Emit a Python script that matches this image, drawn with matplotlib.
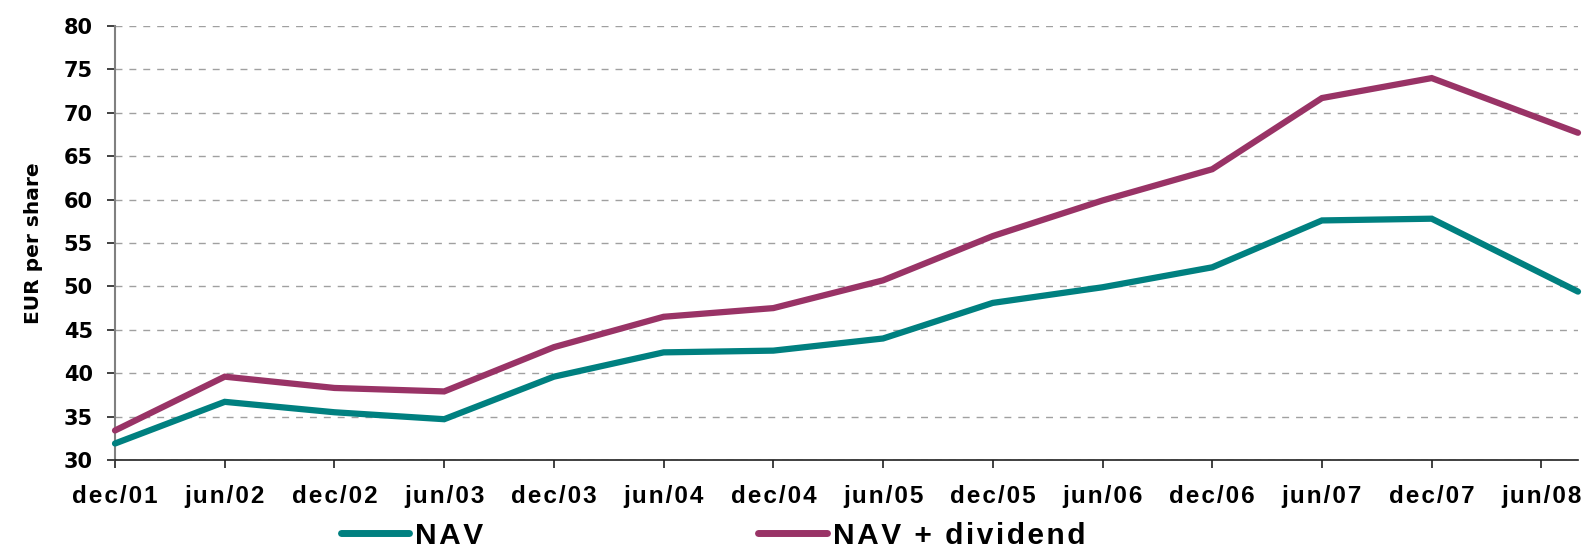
import matplotlib
matplotlib.use("Agg")
import matplotlib.pyplot as plt
from matplotlib.lines import Line2D

plt.rcParams['font.family'] = ['Liberation Sans', 'DejaVu Sans']

# months since dec/01
months = [0, 6, 12, 18, 24, 30, 36, 42, 48, 54, 60, 66, 72, 80]
nav = [31.9, 36.7, 35.5, 34.7, 39.6, 42.4, 42.6, 44.0, 48.1, 49.9, 52.2, 57.6, 57.8, 49.4]
nav_div = [33.4, 39.6, 38.3, 37.9, 43.0, 46.5, 47.5, 50.7, 55.8, 59.9, 63.5, 71.7, 74.0, 67.7]

tick_pos = [0, 6, 12, 18, 24, 30, 36, 42, 48, 54, 60, 66, 72, 78]
tick_labels = ["dec/01", "jun/02", "dec/02", "jun/03", "dec/03", "jun/04", "dec/04",
               "jun/05", "dec/05", "jun/06", "dec/06", "jun/07", "dec/07", "jun/08"]
y_ticks = [30, 35, 40, 45, 50, 55, 60, 65, 70, 75, 80]
series_names = ["NAV", "NAV + dividend"]

TEAL = "#008080"
PLUM = "#993366"
HAIR = "\u200a"  # hair space for letter spacing
WIDE = ['DejaVu Sans']

fig = plt.figure(figsize=(15.95, 5.49), dpi=100)
ax = fig.add_axes([115/1595, 1-460/549, (1578-115)/1595, (460-26)/549])

ax.plot(months, nav, color=TEAL, lw=4.5, solid_capstyle='round', solid_joinstyle='miter', zorder=3, clip_on=False)
ax.plot(months, nav_div, color=PLUM, lw=4.5, solid_capstyle='round', solid_joinstyle='miter', zorder=3, clip_on=False)

ax.set_xlim(0, 80)
ax.set_ylim(30, 80)
ax.set_yticks(y_ticks)
ax.set_yticklabels([str(v) for v in y_ticks], fontsize=15, fontweight='bold', family=WIDE)
ax.set_xticks(tick_pos)
ax.set_xticklabels([HAIR.join(list(t)) for t in tick_labels], fontsize=17.5, fontweight='bold')

ax.yaxis.grid(True, linestyle=(0, (5, 5)), color='#a0a0a0', lw=1)
ax.set_axisbelow(True)
for s in ['top', 'right']:
    ax.spines[s].set_visible(False)
ax.spines['left'].set_color('#808080')
ax.spines['left'].set_linewidth(1.5)
ax.spines['bottom'].set_color('#202020')
ax.spines['bottom'].set_linewidth(1.2)
ax.tick_params(axis='y', length=6, width=1.2, color='#202020', pad=10)
ax.tick_params(axis='x', length=6, width=1.2, color='#202020', pad=12)

ax.set_ylabel("EUR per share", fontsize=14.5, fontweight='bold', family=WIDE, labelpad=15)

handles = [Line2D([0], [0], color=TEAL, lw=5, solid_capstyle='round'),
           Line2D([0], [0], color=PLUM, lw=5, solid_capstyle='round')]
fig.legend(handles, [HAIR.join(list(n)) for n in series_names],
           loc='center', bbox_to_anchor=(0.447, 0.024), ncol=2, frameon=False,
           prop={'size': 21.5, 'weight': 'bold'}, handlelength=2.3, handletextpad=0.2,
           columnspacing=9.2, borderpad=0)

fig.savefig("out.png", dpi=100)
